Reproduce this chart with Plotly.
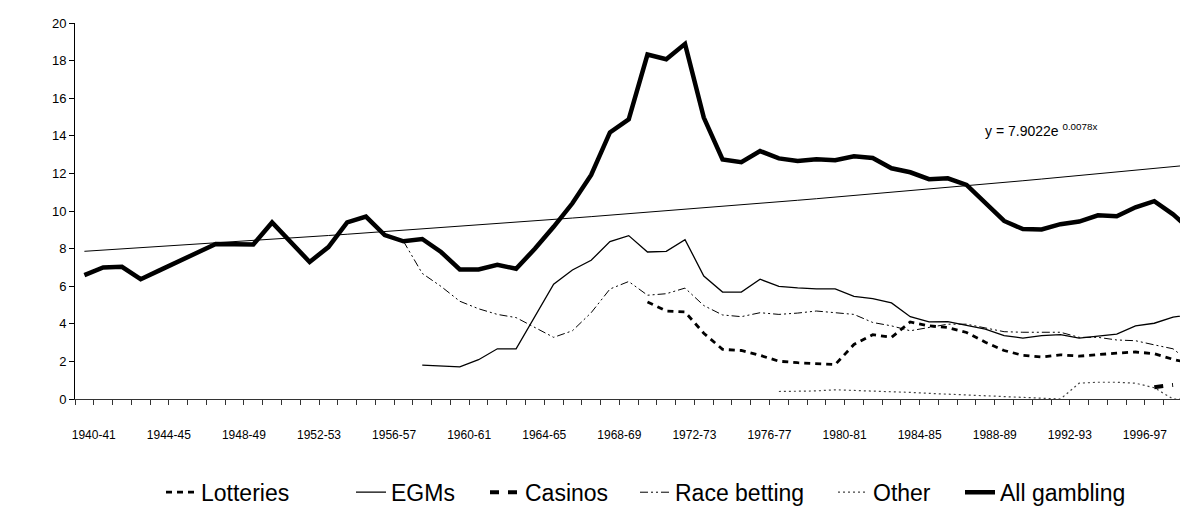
import numpy as np
import plotly.graph_objects as go

categories = [
    "1940-41", "1941-42", "1942-43", "1943-44", "1944-45", "1945-46", "1946-47", "1947-48",
    "1948-49", "1949-50", "1950-51", "1951-52", "1952-53", "1953-54", "1954-55", "1955-56",
    "1956-57", "1957-58", "1958-59", "1959-60", "1960-61", "1961-62", "1962-63", "1963-64",
    "1964-65", "1965-66", "1966-67", "1967-68", "1968-69", "1969-70", "1970-71", "1971-72",
    "1972-73", "1973-74", "1974-75", "1975-76", "1976-77", "1977-78", "1978-79", "1979-80",
    "1980-81", "1981-82", "1982-83", "1983-84", "1984-85", "1985-86", "1986-87", "1987-88",
    "1988-89", "1989-90", "1990-91", "1991-92", "1992-93", "1993-94", "1994-95", "1995-96",
    "1996-97", "1997-98", "1998-99", "1999-00",
]

N = None
all_gambling = [
    6.59, 7.00, 7.03, 6.37, 6.84, 7.31, 7.78, 8.25, 8.23, 8.22,
    9.39, 8.35, 7.29, 8.08, 9.39, 9.70, 8.72, 8.39, 8.51, 7.82,
    6.89, 6.89, 7.14, 6.93, 7.99, 9.16, 10.41, 11.92, 14.18, 14.88,
    18.32, 18.07, 18.89, 14.97, 12.74, 12.60, 13.19, 12.80, 12.66, 12.75,
    12.70, 12.91, 12.82, 12.27, 12.06, 11.69, 11.74, 11.39, 10.43, 9.47,
    9.04, 9.02, 9.30, 9.44, 9.77, 9.72, 10.20, 10.52, 9.82, 8.95,
]
egms = [
    N, N, N, N, N, N, N, N, N, N,
    N, N, N, N, N, N, N, N, 1.80, 1.77,
    1.71, 2.09, 2.67, 2.67, 4.42, 6.11, 6.86, 7.38, 8.37, 8.69,
    7.82, 7.85, 8.48, 6.54, 5.69, 5.69, 6.37, 5.99, 5.91, 5.86,
    5.86, 5.46, 5.34, 5.11, 4.38, 4.10, 4.12, 3.93, 3.72, 3.37,
    3.24, 3.37, 3.42, 3.24, 3.33, 3.45, 3.89, 4.03, 4.36, 4.50,
]
race_betting = [
    N, N, N, N, N, N, N, N, N, N,
    N, N, N, N, N, N, N, 8.39, 6.68, 5.99,
    5.20, 4.80, 4.50, 4.33, 3.80, 3.28, 3.63, 4.59, 5.85, 6.25,
    5.52, 5.60, 5.90, 4.97, 4.47, 4.38, 4.59, 4.50, 4.57, 4.68,
    4.59, 4.50, 4.07, 3.89, 3.63, 3.80, 3.98, 3.98, 3.80, 3.58,
    3.55, 3.55, 3.55, 3.28, 3.28, 3.14, 3.10, 2.88, 2.67, 1.88,
]
lotteries = [
    N, N, N, N, N, N, N, N, N, N,
    N, N, N, N, N, N, N, N, N, N,
    N, N, N, N, N, N, N, N, N, N,
    5.16, 4.68, 4.63, 3.50, 2.64, 2.58, 2.32, 2.01, 1.93, 1.88,
    1.83, 2.90, 3.42, 3.28, 4.10, 3.89, 3.80, 3.54, 3.02, 2.58,
    2.32, 2.23, 2.35, 2.28, 2.37, 2.44, 2.50, 2.41, 2.11, 1.88,
]
casinos = [N] * 57 + [0.63, 0.75, N]
other = [
    N, N, N, N, N, N, N, N, N, N,
    N, N, N, N, N, N, N, N, N, N,
    N, N, N, N, N, N, N, N, N, N,
    N, N, N, N, N, N, N, 0.40, 0.40, 0.43,
    0.49, 0.46, 0.40, 0.40, 0.35, 0.30, 0.26, 0.21, 0.17, 0.12,
    0.07, 0.03, 0.00, 0.84, 0.89, 0.89, 0.84, 0.60, 0.00, 0.00,
]
trend_label = "y = 7.9022e <sup>0.0078x</sup>"

FONT = "Liberation Sans, Arial, sans-serif"
xs = np.arange(len(categories))

# exponential trendline fitted to All gambling (as the spreadsheet does)
xt = xs + 1
coef = np.polyfit(xt, np.log(np.array(all_gambling)), 1)
trend = np.exp(coef[1]) * np.exp(coef[0] * xt)

fig = go.Figure()
series = [
    ("Lotteries", lotteries, dict(color="black", width=2.8, dash="6px,5px"), "legend"),
    ("EGMs", egms, dict(color="black", width=1.3), "legend2"),
    ("Casinos", casinos, dict(color="black", width=4, dash="9px,9px"), "legend3"),
    ("Race betting", race_betting, dict(color="black", width=1, dash="8px,3px,2px,3px,2px,3px"), "legend4"),
    ("Other", other, dict(color="#444444", width=1.2, dash="2px,3px"), "legend5"),
    ("All gambling", all_gambling, dict(color="black", width=4.5), "legend6"),
]
for name, vals, line, lg in series:
    fig.add_trace(go.Scatter(x=xs, y=vals, mode="lines", name=name, line=line,
                             legend=lg, connectgaps=False))
fig.add_trace(go.Scatter(x=xs, y=trend, mode="lines", line=dict(color="black", width=1),
                         showlegend=False, hoverinfo="skip"))

tickvals = [j - 0.5 for j in range(len(categories) + 1)]
ticktext = [categories[j - 1] if j >= 1 and (j - 1) % 4 == 0 else "" for j in range(len(categories) + 1)]

plot_w = 1188 - 67
cat_px = 18.77
fig.update_xaxes(range=[-0.5, -0.5 + plot_w / cat_px], tickmode="array", tickvals=tickvals,
                 ticktext=ticktext, tickangle=0, ticks="outside", ticklen=5, tickcolor="#333333",
                 showline=True, linecolor="#333333", linewidth=1, showgrid=False, zeroline=False,
                 tickfont=dict(family=FONT, size=12, color="black"), ticklabelstandoff=20)
fig.update_yaxes(range=[0, 20], dtick=2, ticks="outside", ticklen=5, tickcolor="black",
                 showline=True, linecolor="black", linewidth=1, showgrid=False, zeroline=False,
                 tickfont=dict(family=FONT, size=13, color="black"))

text_starts = [198, 388, 522, 672, 870, 997]
legend_defs = {}
for i, px in enumerate(text_starts):
    key = "legend" if i == 0 else f"legend{i+1}"
    legend_defs[key] = dict(x=(px - 45 - 67) / plot_w, y=(398 - 493) / 383, xanchor="left",
                            yanchor="middle", orientation="h", bgcolor="rgba(0,0,0,0)",
                            font=dict(family=FONT, size=23, color="black"), borderwidth=0)

fig.update_layout(
    width=1188, height=506,
    margin=dict(l=67, r=0, t=15, b=108),
    paper_bgcolor="white", plot_bgcolor="white",
    font=dict(family=FONT, color="black"),
    annotations=[dict(x=47.87, y=14.3, xref="x", yref="y", text=trend_label, showarrow=False,
                      xanchor="left", yanchor="middle",
                      font=dict(family=FONT, size=14, color="black"))],
    **legend_defs,
)
fig.write_html("out.html")
